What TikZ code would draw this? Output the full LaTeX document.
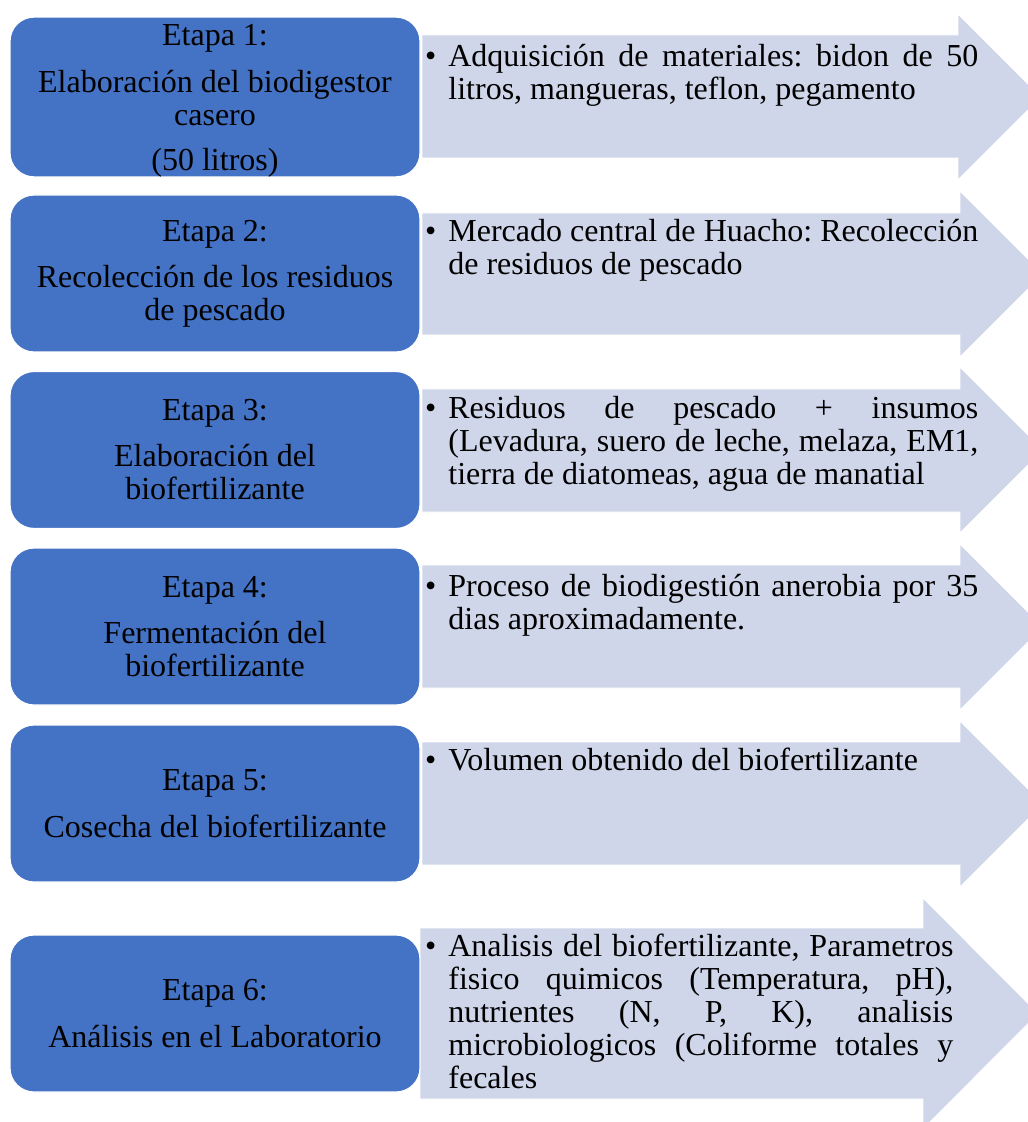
\documentclass[tikz,border=0pt]{standalone}
\usepackage{fontspec}
\setmainfont{Liberation Serif}
\definecolor{azul}{RGB}{68,114,196}
\definecolor{celeste}{RGB}{208,214,234}
\begin{document}
\frenchspacing
\begin{tikzpicture}[x=0.5pt, y=-0.5pt,
  etapa/.style={rectangle, rounded corners=12pt, fill=azul, draw=white, line width=0.6pt, minimum width=205pt, minimum height=78.5pt, inner sep=0pt, align=center, font=\fontsize{16}{16.5}\selectfont},
  flecha/.style={fill=celeste, draw=white, line width=0.4pt},
  texto/.style={anchor=base west, inner sep=0pt, text width=265pt, align=justify, font=\fontsize{16}{16.5}\selectfont}]
\useasboundingbox (0,0) rectangle (1027,1122);
% flechas
\filldraw[flecha] (422,35) -- (958,35) -- (958,14) -- (1041,97) -- (958,180) -- (958,158) -- (422,158) -- cycle;
\filldraw[flecha] (422,213) -- (960,213) -- (960,191) -- (1043,274) -- (960,357) -- (960,335) -- (422,335) -- cycle;
\filldraw[flecha] (422,389) -- (960,389) -- (960,367) -- (1043,450) -- (960,533) -- (960,512) -- (422,512) -- cycle;
\filldraw[flecha] (422,565) -- (960,565) -- (960,544) -- (1043,627) -- (960,710) -- (960,688) -- (422,688) -- cycle;
\filldraw[flecha] (422,742) -- (960,742) -- (960,721) -- (1043,804) -- (960,887) -- (960,865) -- (422,865) -- cycle;
\filldraw[flecha] (420,928) -- (923,928) -- (923,898) -- (1038,1013.5) -- (923,1129) -- (923,1099) -- (420,1099) -- cycle;
% etapas
\node[etapa] (etapa1) at (215,97) {\rule{0pt}{14pt}Etapa 1:\\[7pt] Elaboración del biodigestor\\ casero\\[6pt] (50 litros)};
\node[etapa] (etapa2) at (215,273.5) {Etapa 2:\\[6.5pt] Recolección de los residuos\\ de pescado};
\node[etapa] (etapa3) at (215,450) {Etapa 3:\\[6.5pt] Elaboración del\\ biofertilizante};
\node[etapa] (etapa4) at (215,626.5) {Etapa 4:\\[6.5pt] Fermentación del\\ biofertilizante};
\node[etapa] (etapa5) at (215,803.5) {Etapa 5:\\[7pt] Cosecha del biofertilizante};
\node[etapa] (etapa6) at (215,1013.5) {Etapa 6:\\[7pt] Análisis en el Laboratorio};
% descripciones
\node[texto] (desc1) at (448,67) {\llap{\textbullet\hskip 6pt}Adquisición de materiales: bidon de 50\linebreak litros, mangueras, teflon, pegamento};
\node[texto] (desc2) at (448,242) {\llap{\textbullet\hskip 6pt}Mercado central de Huacho: Recolección\linebreak de residuos de pescado};
\node[texto] (desc3) at (448,418) {\llap{\textbullet\hskip 6pt}Residuos de pescado + insumos\linebreak (Levadura, suero de leche, melaza, EM1,\linebreak tierra de diatomeas, agua de manatial};
\node[texto] (desc4) at (448,596) {\llap{\textbullet\hskip 6pt}Proceso de biodigestión anerobia por 35\linebreak dias aproximadamente.};
\node[texto] (desc5) at (448,770) {\llap{\textbullet\hskip 6pt}Volumen obtenido del biofertilizante};
\node[texto, text width=252.5pt] (desc6) at (448,956) {\llap{\textbullet\hskip 6pt}Analisis del biofertilizante, Parametros\linebreak fisico quimicos (Temperatura, pH),\linebreak nutrientes (N, P, K), analisis\linebreak microbiologicos (Coliforme totales y\linebreak fecales};
\end{tikzpicture}
\end{document}
